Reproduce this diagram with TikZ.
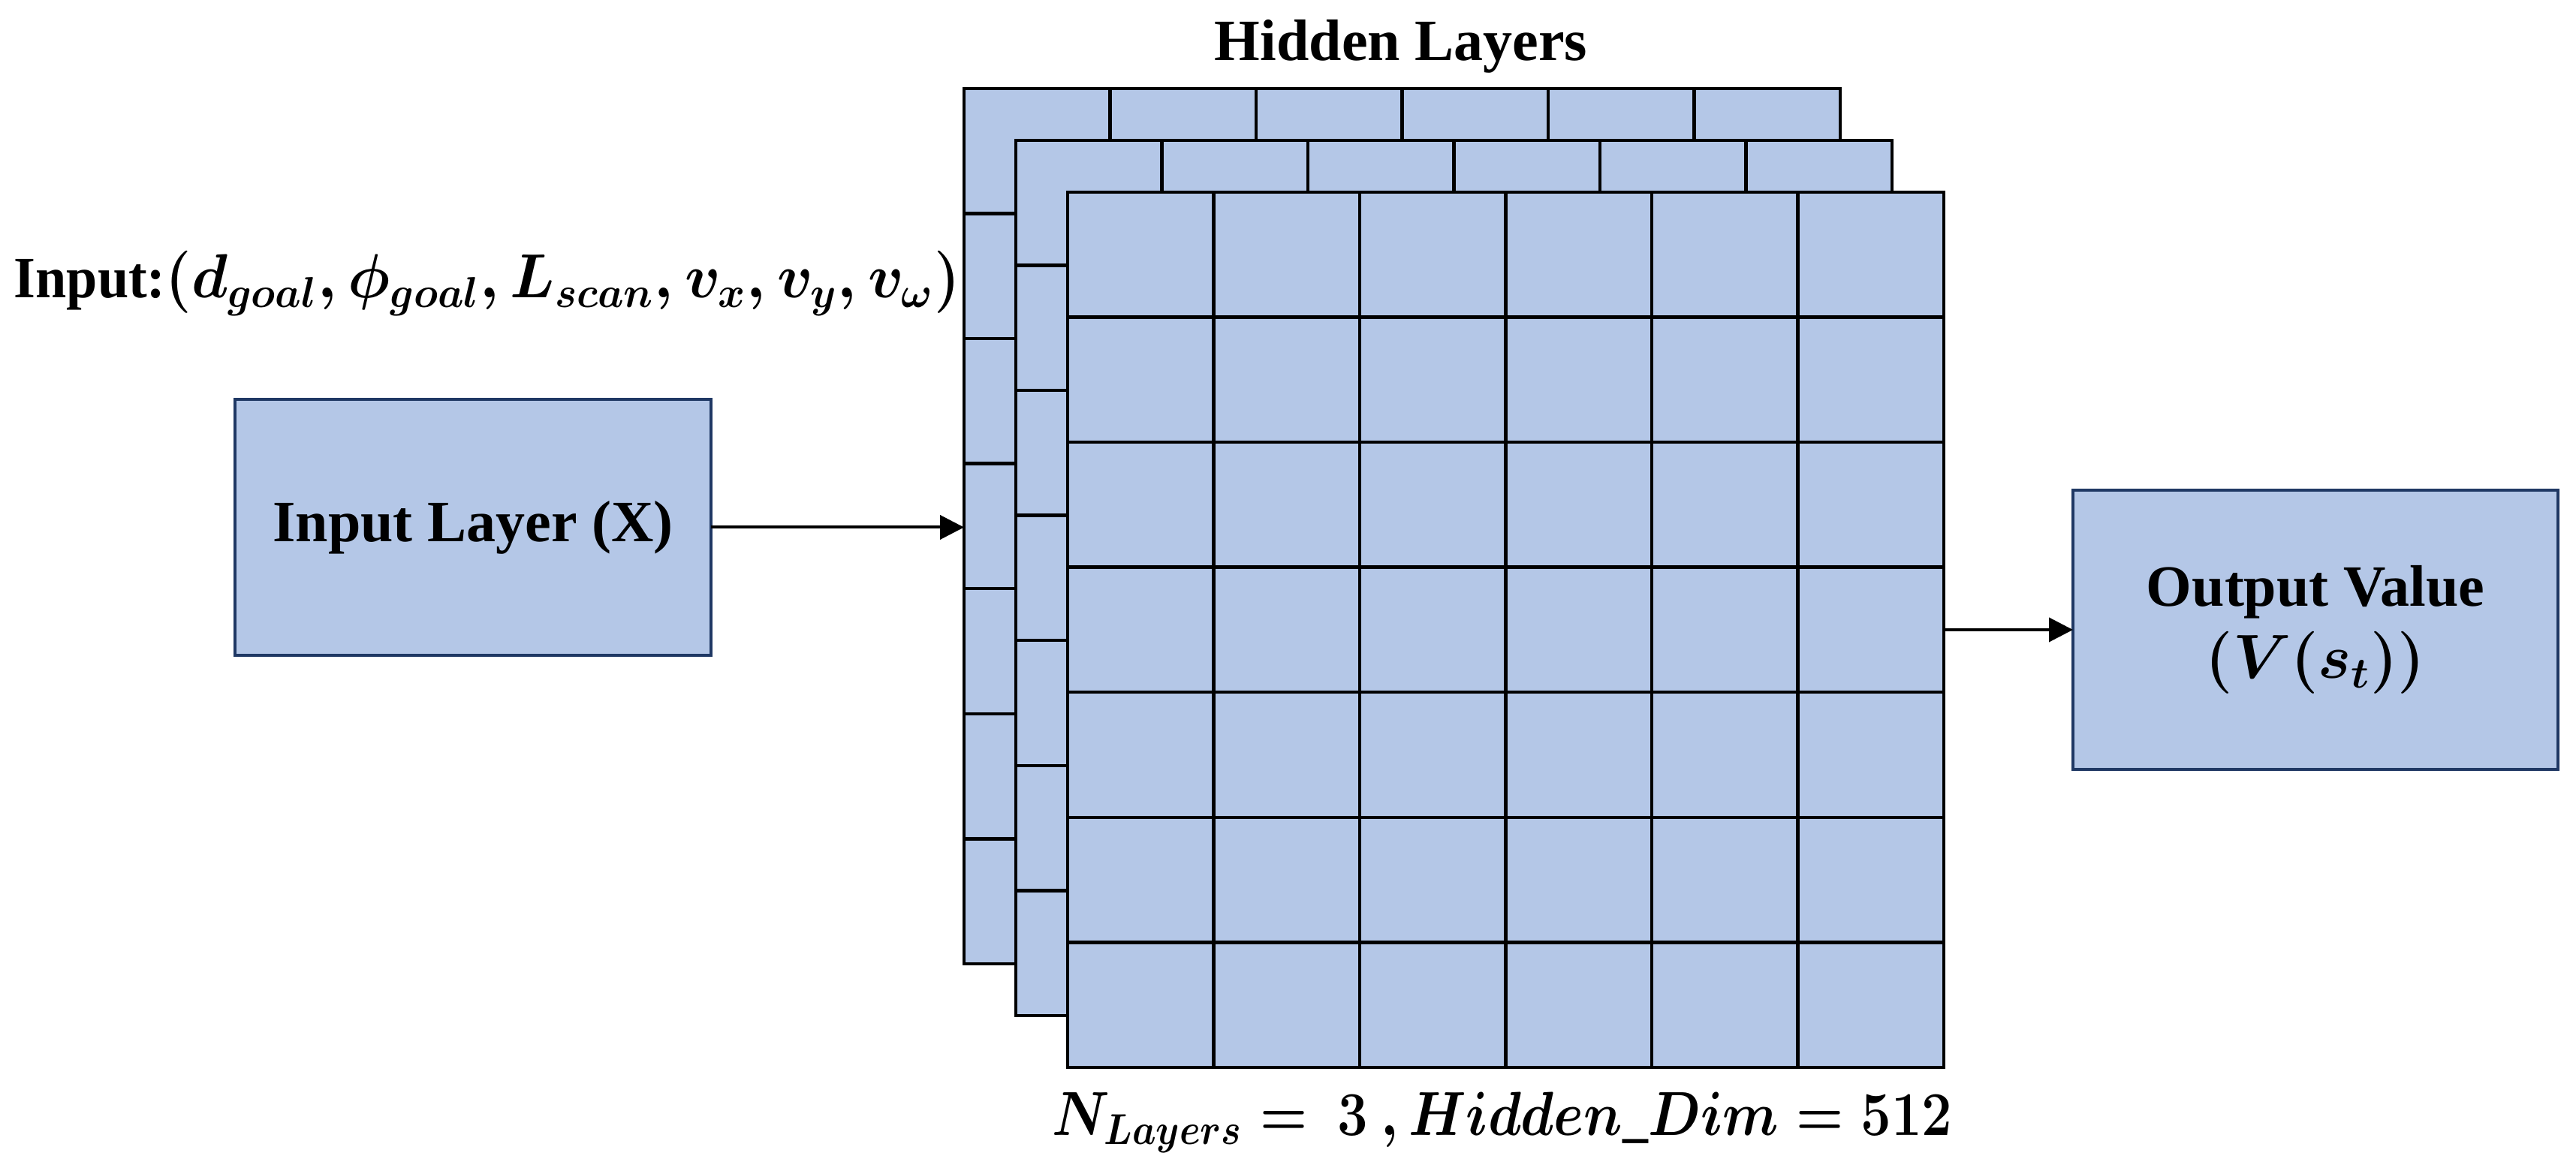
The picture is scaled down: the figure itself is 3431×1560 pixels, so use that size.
\documentclass[tikz,border=0pt]{standalone}
\usepackage{amsmath}
\usepackage{graphicx}
\usepackage{fontspec}
\setmainfont{Liberation Serif}
\usetikzlibrary{arrows.meta,calc}
\definecolor{boxfill}{HTML}{B4C7E7}
\definecolor{boxline}{HTML}{1F3864}
\begin{document}
\begin{tikzpicture}[x=0.25pt,y=-0.25pt,
  lbl/.style={font=\fontsize{19.5}{24}\selectfont\bfseries\boldmath, inner sep=0pt},
  blk/.style={draw=boxline, fill=boxfill, line width=1.1pt, inner sep=0pt, outer sep=0pt,
    align=center, font=\fontsize{19.5}{25}\selectfont\bfseries\boldmath},
  layer/.style={draw=black, fill=boxfill, line width=1.1pt, inner sep=0pt, outer sep=0pt,
    minimum width=291.75pt, minimum height=291.5pt},
  gridline/.style={draw=black, line width=1.1pt},
  conn/.style={line width=1pt, -{Triangle[length=8pt,width=8pt]}}]
\path[use as bounding box] (0,0) rectangle (3431,1560);
% hidden layer stack
\foreach \L/\cx/\cy in {L1/1867.5/701, L2/1936.5/770, L3/2005.5/839}{
  \node[layer] (\L) at (\cx,\cy) {};
  \foreach \i in {1,...,5}
    \draw[gridline] ($(\L.north west)!\i/6!(\L.north east)$) -- ($(\L.south west)!\i/6!(\L.south east)$);
  \foreach \j in {1,...,6}
    \draw[gridline] ($(\L.north west)!\j/7!(\L.south west)$) -- ($(\L.north east)!\j/7!(\L.south east)$);
}
% boxes
\node[blk, minimum width=158.5pt, minimum height=85.25pt] (inp) at (630,702.5) {\raisebox{-1pt}{Input Layer (X)}};
\node[blk, minimum width=161.5pt, minimum height=93pt] (out) at (3084,839) {\raisebox{-3pt}{Output Value}\\[-1pt]\raisebox{-3pt}{$(V(s_t))$}};
% labels
\node[lbl, anchor=base] (title) at (1866,81) {Hidden Layers};
\node[lbl, anchor=base west] (intxt) at (18,397) {\scalebox{0.95}[1]{Input:{}$(d_{goal}, \phi_{goal}, L_{scan}, v_{x}, v_{y}, v_{\omega})$}};
\node[lbl, anchor=base] (dims) at (2001,1512) {\scalebox{0.87}[1]{$N_{Layers} =\ 3\ ,Hidden\_Dim = 512$}};
% connectors
\draw[conn] (inp.east) -- (inp.east -| L1.west);
\draw[conn] (L3.east) -- (out.west);
\end{tikzpicture}
\end{document}
